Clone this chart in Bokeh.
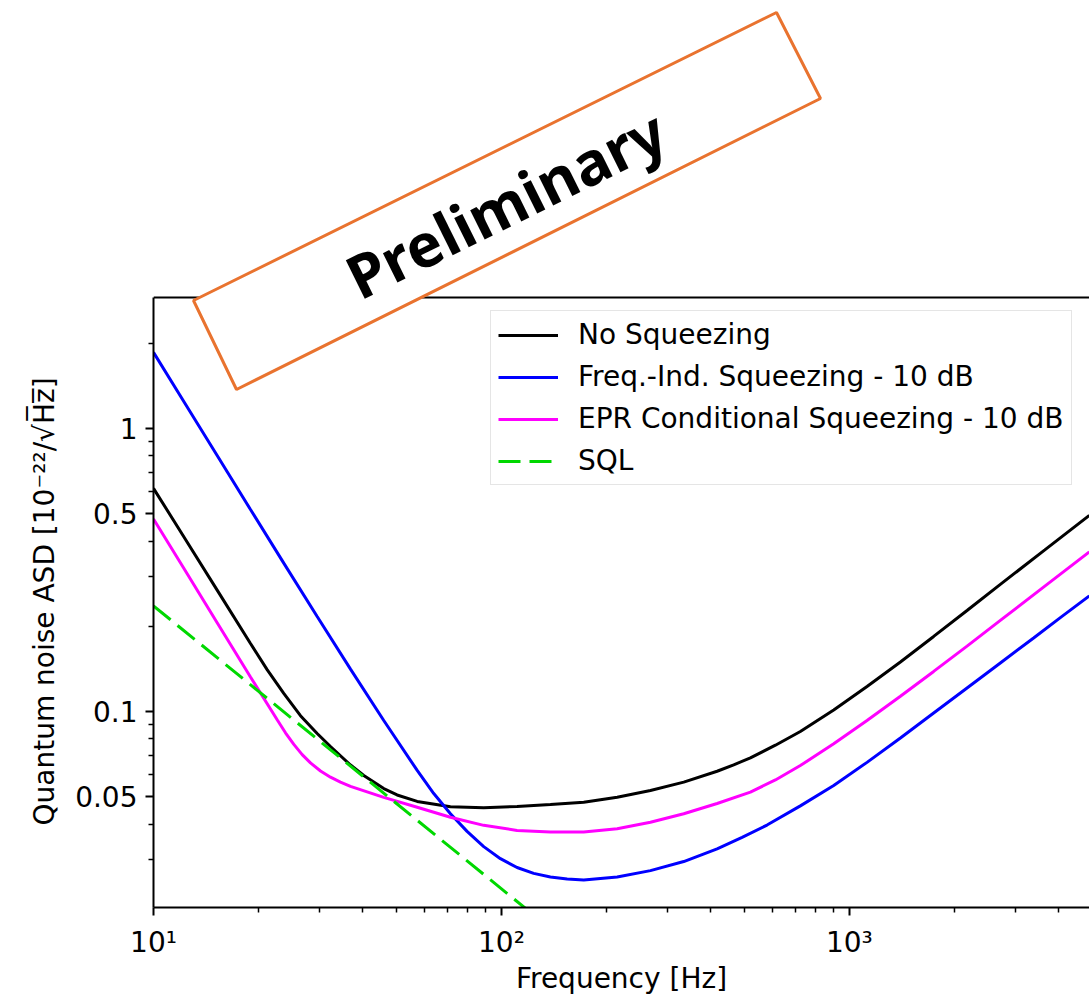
import numpy as np
from bokeh.plotting import figure
from bokeh.models import (FixedTicker, Legend, LegendItem, PolyAnnotation,
                          Label, Range1d, Span, Title)
from bokeh.embed import file_html
from bokeh.resources import INLINE

# ---------------- data ----------------
freq_noSqz = [10, 12.22, 15.24, 19.0, 21.21, 23.68, 26.45, 29.54, 32.26,
              36.83, 40.21, 45.9, 50.14, 57.27, 71.36, 88.94, 110.9, 138.3,
              172.4, 215.1, 268.1, 334.2, 416.8, 465.1, 519.5, 613, 723,
              901.6, 1124, 1402, 1747, 2179, 2716, 3646, 4894]
asd_noSqz = [0.614, 0.4144, 0.2683, 0.1739, 0.1405, 0.1158, 0.0966, 0.0836,
             0.0752, 0.0647, 0.0594, 0.0534, 0.0507, 0.0481, 0.0461, 0.0457,
             0.0462, 0.0469, 0.0478, 0.0498, 0.0526, 0.0563, 0.0615, 0.0648,
             0.0686, 0.0760, 0.0850, 0.1012, 0.1226, 0.1496, 0.1841, 0.2274,
             0.2811, 0.3721, 0.4927]

freq_fis = [10, 12.22, 15.24, 19.0, 23.68, 29.54, 36.83, 45.9, 57.27, 63.9,
            71.36, 79.66, 88.94, 99.34, 110.9, 123.8, 138.3, 154.5, 172.4,
            215.1, 268.1, 334.2, 416.8, 491.7, 580, 723, 901.6, 1124, 1402,
            1747, 2179, 2716, 3385, 4067, 4894]
asd_fis = [1.856, 1.245, 0.8016, 0.5169, 0.3342, 0.2164, 0.1411, 0.0929,
           0.0619, 0.0513, 0.0435, 0.0377, 0.0333, 0.0302, 0.0281, 0.0268,
           0.0260, 0.0256, 0.0254, 0.0260, 0.0274, 0.0295, 0.0327, 0.0359,
           0.0397, 0.0464, 0.0548, 0.0661, 0.0806, 0.0988, 0.1211, 0.1484,
           0.1818, 0.2158, 0.2559]

freq_epr = [10, 12.22, 15.24, 19.0, 22.67, 23.95, 25.31, 26.75, 28.26, 30.2,
            32.26, 34.46, 36.83, 45.9, 57.27, 71.36, 88.94, 110.9, 138.3,
            172.4, 215.1, 268.1, 334.2, 416.8, 519.5, 613, 723, 901.6, 1124,
            1402, 1747, 2179, 2716, 3646, 4894]
asd_epr = [0.4788, 0.3204, 0.2058, 0.1323, 0.0935, 0.0841, 0.0765, 0.0704,
           0.0658, 0.0616, 0.0586, 0.0563, 0.0544, 0.0497, 0.0459, 0.0423,
           0.0396, 0.0380, 0.0375, 0.0375, 0.0385, 0.0406, 0.0435, 0.0473,
           0.0519, 0.0573, 0.0644, 0.0769, 0.0929, 0.1132, 0.1385, 0.1701,
           0.2097, 0.2772, 0.3662]

freq_sql = [10, 120]
asd_sql = [0.236, 0.0197]

series_labels = ["No Squeezing", "Freq.-Ind. Squeezing - 10 dB",
                 "EPR Conditional Squeezing - 10 dB", "SQL"]

x_major = [10, 100, 1000]
x_major_labels = ["10\u00b9", "10\u00b2", "10\u00b3"]
x_minor = [20, 30, 40, 50, 60, 70, 80, 90, 200, 300, 400, 500, 600, 700, 800,
           900, 2000, 3000, 4000]
y_major = [0.05, 0.1, 0.5, 1]
y_major_labels = ["0.05", "0.1", "0.5", "1"]
y_minor = [0.03, 0.04, 0.06, 0.07, 0.08, 0.09, 0.2, 0.3, 0.4, 0.6, 0.7, 0.8,
           0.9, 2]
y_title = "Quantum noise ASD [10\u207b\u00b2\u00b2/\u221aH\u0305z\u0305]"

# ---------------- layout ----------------
X0, X1 = 10, 4900          # visible x range
Y0, Y1 = 0.0203, 2.9       # axes box y range
BL = 153                   # left border (px)
FW = 936                   # frame width (px)
AX_TOP = 297               # top of the axes box (px from page top)
AX_H = 610                 # height of the axes box (px)
FH = AX_TOP + AX_H         # frame reaches the top of the page (room for stamp)
FONT = "DejaVu Sans"
FS = "28px"

lx0, lx1 = np.log10(X0), np.log10(X1)
ly0, ly1 = np.log10(Y0), np.log10(Y1)
lyT = ly1 + AX_TOP * (ly1 - ly0) / AX_H
YTOP = 10 ** lyT

p = figure(frame_width=FW, frame_height=FH, x_axis_type="log",
           y_axis_type="log", x_range=Range1d(X0, X1),
           y_range=Range1d(Y0, YTOP), output_backend="svg",
           toolbar_location=None, min_border_left=BL, min_border_top=0,
           min_border_right=0, min_border_bottom=86)
p.outline_line_color = None
p.grid.visible = False
p.background_fill_color = "white"
p.border_fill_color = "white"

for ax in (p.xaxis[0], p.yaxis[0]):
    ax.axis_line_width = 2
    ax.axis_line_color = "black"
    ax.major_tick_line_width = 2
    ax.minor_tick_line_width = 1.5
    ax.major_tick_out = 8
    ax.major_tick_in = 0
    ax.minor_tick_out = 5
    ax.minor_tick_in = 0
    ax.major_label_text_font = FONT
    ax.major_label_text_font_size = FS
    ax.major_label_text_color = "black"
    ax.axis_label_text_font = FONT
    ax.axis_label_text_font_size = FS
    ax.axis_label_text_font_style = "normal"
    ax.axis_label_text_color = "black"

p.xaxis[0].ticker = FixedTicker(ticks=x_major, minor_ticks=x_minor)
p.xaxis[0].major_label_overrides = dict(zip(x_major, x_major_labels))
p.xaxis[0].axis_label = "Frequency [Hz]"
p.xaxis[0].major_label_standoff = 10
p.xaxis[0].axis_label_standoff = 0

p.yaxis[0].ticker = FixedTicker(ticks=y_major, minor_ticks=y_minor)
p.yaxis[0].major_label_overrides = dict(zip(y_major, y_major_labels))
p.yaxis[0].major_label_standoff = 8
p.yaxis[0].bounds = (Y0, Y1)

# y-axis title, centred on the axes box (not on the taller frame)
ytitle = Title(text=y_title, align="left", offset=82, vertical_align="middle",
               text_font=FONT, text_font_size=FS, text_font_style="normal",
               text_color="black", standoff=22)
p.add_layout(ytitle, "left")

top_spine = Span(location=Y1, dimension="width", line_color="black",
                 line_width=2)
p.add_layout(top_spine)

r_black = p.line(freq_noSqz, asd_noSqz, line_color="black", line_width=3)
r_blue = p.line(freq_fis, asd_fis, line_color="#0000ff", line_width=3)
r_pink = p.line(freq_epr, asd_epr, line_color="#ff00ff", line_width=3)
r_sql = p.line(freq_sql, asd_sql, line_color="#00d800", line_width=3,
               line_dash="22 9")

legend = Legend(items=[LegendItem(label=l, renderers=[r]) for l, r in
                       zip(series_labels, [r_black, r_blue, r_pink, r_sql])],
                location=(490 - BL, FH - 485))
legend.margin = 0
legend.padding = 7
legend.spacing = 9
legend.glyph_width = 60
legend.glyph_height = 30
legend.label_height = 30
legend.label_standoff = 20
legend.label_text_font = FONT
legend.label_text_font_size = FS
legend.label_text_color = "black"
legend.border_line_color = "#cccccc"
legend.border_line_width = 1.5
legend.background_fill_alpha = 0.85
p.add_layout(legend)

# ---------------- "Preliminary" stamp (page pixel positions -> data) ----------------


def fx(px):
    return float(10 ** (lx0 + (px - BL) / FW * (lx1 - lx0)))


def fy(py):
    return float(10 ** (lyT - py / FH * (lyT - ly0)))


corners = [(193, 300), (776, 12), (820, 98), (236, 389)]
stamp = PolyAnnotation(xs=[fx(c[0]) for c in corners],
                       ys=[fy(c[1]) for c in corners],
                       fill_color="white", fill_alpha=1.0,
                       line_color="#e9732f", line_alpha=1.0, line_width=3,
                       level="overlay")
p.add_layout(stamp)

txt = Label(x=fx(505), y=fy(203), text="Preliminary", angle=0.459,
            text_font="Noto Sans", text_font_style="bold",
            text_font_size="60px", text_align="center",
            text_baseline="middle", text_color="black", level="overlay")
p.add_layout(txt)

open("out.html", "w").write(file_html(p, INLINE))
